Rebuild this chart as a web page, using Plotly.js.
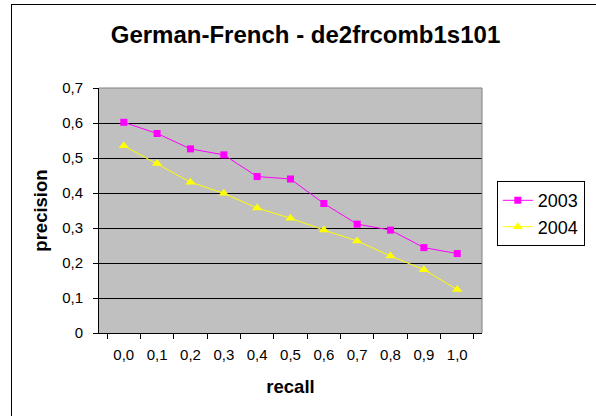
<!DOCTYPE html>
<html>
<head>
<meta charset="utf-8">
<script src="https://cdn.plot.ly/plotly-3.0.1.min.js"></script>
<style>
html,body{margin:0;padding:0;background:#fff;}
#chart{width:596px;height:416px;position:relative;}
#frame{position:absolute;left:11px;top:4px;width:700px;height:500px;border:1px solid #000;pointer-events:none;}
#wrap{position:relative;width:596px;height:416px;overflow:hidden;}
</style>
</head>
<body>
<div id="wrap">
<div id="chart"></div>
<div id="frame"></div>
</div>
<script>
const recall = ['0,0','0,1','0,2','0,3','0,4','0,5','0,6','0,7','0,8','0,9','1,0'];
const prec2003 = [0.602, 0.570, 0.526, 0.509, 0.447, 0.440, 0.370, 0.311, 0.294, 0.244, 0.227];
const prec2004 = [0.535, 0.484, 0.431, 0.399, 0.357, 0.328, 0.294, 0.263, 0.220, 0.181, 0.124];
const seriesNames = ['2003', '2004'];

const traces = [
  {x: recall, y: prec2003, name: seriesNames[0], type: 'scatter', mode: 'lines+markers',
   line: {color: '#ff00ff', width: 1}, marker: {symbol: 'square', size: 7, color: '#ff00ff'}},
  {x: recall, y: prec2004, name: seriesNames[1], type: 'scatter', mode: 'lines+markers',
   line: {color: '#ffff00', width: 1}, marker: {symbol: 'triangle-up', size: 9, color: '#ffff00'}}
];

const layout = {
  width: 596, height: 416,
  margin: {l: 99, r: 113, t: 88, b: 83},
  paper_bgcolor: '#ffffff',
  plot_bgcolor: '#c0c0c0',
  separators: ', ',
  font: {family: 'Liberation Sans, Arial, sans-serif', color: '#000', size: 15},
  title: {text: '<b>German-French - de2frcomb1s101</b>', font: {size: 24, color: '#000'},
          x: 0.5126, xanchor: 'center', xref: 'container', y: 0.918, yanchor: 'middle', yref: 'container'},
  xaxis: {type: 'category', tickson: 'boundaries', ticks: 'outside', ticklen: 5, tickcolor: '#000',
          showgrid: false, showline: true, linecolor: '#000', linewidth: 1, mirror: false,
          tickfont: {size: 15}, zeroline: false, ticklabelstandoff: 8,
          title: {text: '<b>recall</b>', font: {size: 18.5}, standoff: 18}},
  yaxis: {range: [0, 0.7], dtick: 0.1, tick0: 0, ticks: 'outside', ticklen: 5, tickcolor: '#000',
          showgrid: true, gridcolor: '#000', gridwidth: 1, showline: true, linecolor: '#000', linewidth: 1,
          zeroline: false, tickfont: {size: 15}, ticklabelstandoff: 7,
          title: {text: '<b>precision</b>', font: {size: 18.5}, standoff: 9}},
  legend: {x: 1.036, y: 0.62, xanchor: 'left', yanchor: 'top', bgcolor: '#ffffff',
           bordercolor: '#000', borderwidth: 1, font: {size: 18}, tracegroupgap: 0},
  showlegend: true,
  shapes: [
    {type: 'line', xref: 'paper', yref: 'paper', x0: 0, x1: 1, y0: 1, y1: 1, line: {color: '#808080', width: 1}},
    {type: 'line', xref: 'paper', yref: 'paper', x0: 1, x1: 1, y0: 0, y1: 1, line: {color: '#808080', width: 1}}
  ]
};

Plotly.newPlot('chart', traces, layout, {staticPlot: true, displayModeBar: false});
</script>
</body>
</html>
